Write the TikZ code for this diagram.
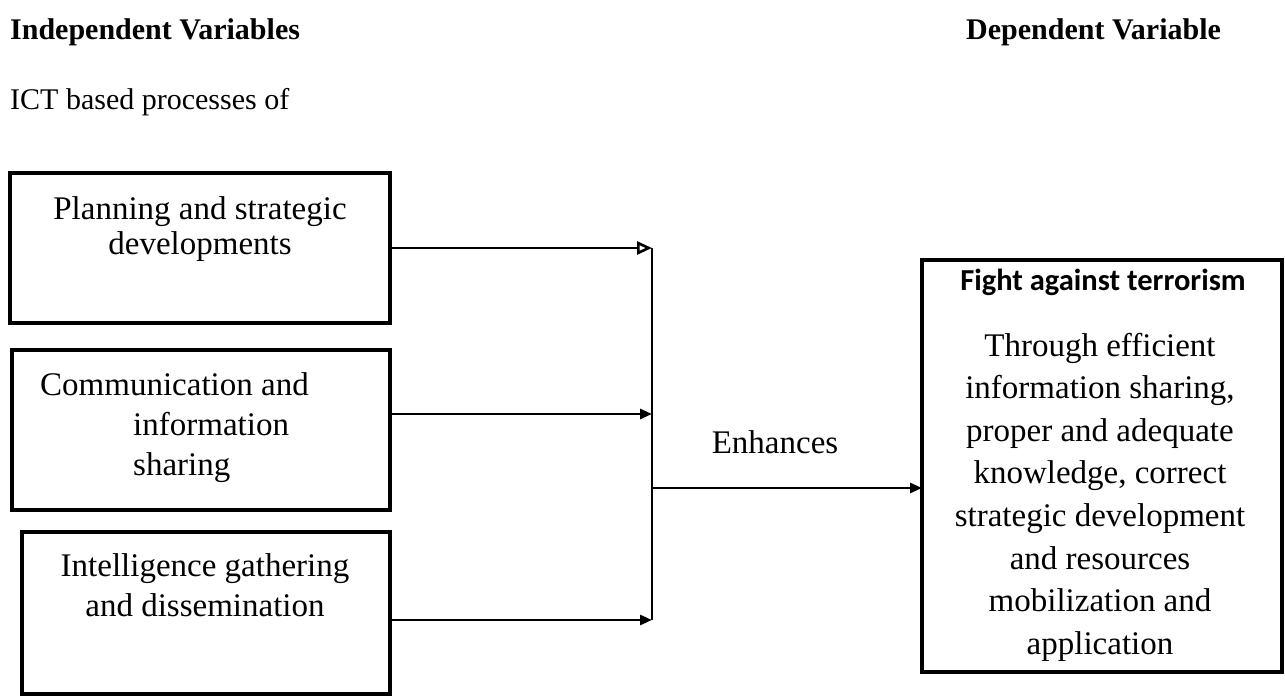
\documentclass[tikz,border=0pt]{standalone}
\usepackage{fontspec}
\setmainfont{Liberation Serif}
\newfontfamily\calib{Carlito}
\usetikzlibrary{arrows.meta}
\begin{document}
\begin{tikzpicture}[x=1pt,y=-1pt,
  box/.style={draw=black,line width=3.2pt},
  txt/.style={font=\fontsize{33}{40}\selectfont,inner sep=0pt,align=center},
  hd/.style={font=\fontsize{30}{34}\selectfont\bfseries,inner sep=0pt,anchor=west},
  conn/.style={line width=2.8pt},
  arr/.style={conn,-{Triangle[length=12pt,width=10pt]}},
  arropen/.style={conn,-{Triangle[open,length=15pt,width=13pt,line width=2.6pt]}}
]
\useasboundingbox (0,0) rectangle (1285,696);
% headings
\node[hd] (ind) at (10,32) {Independent Variables};
\node[hd] (dep) at (966,32) {Dependent Variable};
\node[txt,font=\fontsize{30}{34}\selectfont,anchor=west] (ict) at (10,102) {ICT based processes of};
% left boxes
\draw[box] (10,173) rectangle (390,323);
\node[txt,font=\fontsize{33}{35}\selectfont] (t1) at (200,229) {Planning and strategic\\developments};
\draw[box] (12,350) rectangle (390,510);
\node[txt,align=left,anchor=west] (t2) at (40,428) {Communication and\\\hspace*{93pt}information\\\hspace*{93pt}sharing};
\draw[box] (22,532) rectangle (390,694);
\node[txt] (t3) at (205,585) {Intelligence gathering\\and dissemination};
% right box
\draw[box] (922,260) rectangle (1282,672);
\node[inner sep=0pt,font=\calib\fontsize{30.5}{34}\selectfont\bfseries] (ft) at (1103,282) {Fight against terrorism};
\node[txt,font=\fontsize{33}{42.6}\selectfont] (body) at (1100,497) {Through efficient\\information sharing,\\proper and adequate\\knowledge, correct\\strategic development\\and resources\\mobilization and\\application};
\node[txt] (enh) at (775,442) {Enhances};
% junction coordinates
\coordinate (a1) at (652,248);
\coordinate (a2) at (652,414);
\coordinate (a3) at (652,620);
\coordinate (jm) at (652,488);
\coordinate (s1) at (390,248);
\coordinate (s2) at (390,414);
\coordinate (s3) at (390,620);
\coordinate (rt) at (922,488);
\draw[conn] (a1) -- (a3);
\draw[arropen] (s1) -- (a1);
\draw[arr] (s2) -- (a2);
\draw[arr] (s3) -- (a3);
\draw[arr] (jm) -- (rt);
\end{tikzpicture}
\end{document}
